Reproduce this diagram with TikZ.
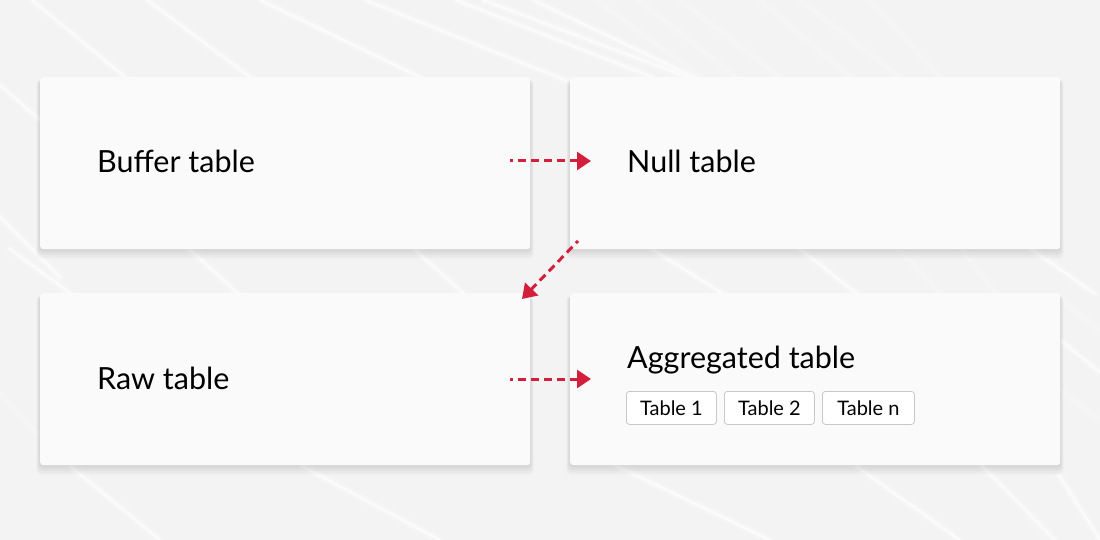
\documentclass[tikz,border=0pt]{standalone}
\usepackage{fontspec}
\setmainfont{Lato}
\usetikzlibrary{arrows.meta}
\definecolor{bg}{HTML}{F3F3F3}
\definecolor{card}{HTML}{FAFAFA}
\definecolor{accent}{HTML}{D2203C}
\definecolor{chipline}{HTML}{C8C8C8}
\tikzset{
  cardbox/.style={draw=none, fill=card, rounded corners=3pt, minimum width=490pt, minimum height=172pt, inner sep=0pt, anchor=north west},
  cardshadow/.style={fill=black, rounded corners=4pt},
  title/.style={font=\fontsize{30.5}{36}\selectfont, text=black, anchor=west, inner sep=0pt},
  chip/.style={draw=chipline, line width=0.8pt, fill=white, rounded corners=3pt, minimum width=90pt, minimum height=33pt, inner sep=0pt, font=\fontsize{20}{24}\selectfont, anchor=north west},
  flow/.style={accent, line width=3pt, dash pattern=on 8pt off 5pt, dash phase=5pt, -{Triangle[length=14pt,width=18pt]}},
  streak/.style={white, line cap=round, line width=8pt, opacity=0.2,
    postaction={draw, white, line width=4pt, opacity=0.3},
    postaction={draw, white, line width=1.6pt, opacity=0.45}},
  faint/.style={white, line cap=round, line width=5pt, opacity=0.22},
}
\begin{document}
\begin{tikzpicture}[x=1pt,y=-1pt]
\fill[bg] (0,0) rectangle (1100,540);
\useasboundingbox (0,0) rectangle (1100,540);
% background streaks (top band)
\draw[streak] (32,0) -- (125,77);
\draw[streak] (147,0) -- (250,77);
\draw[streak] (260,0) -- (420,77);
\draw[streak] (365,0) -- (575,84);
\draw[streak] (456,0) -- (652,77);
\draw[streak] (483,0) -- (687,77);
\draw[streak] (533,0) -- (694,77);
\foreach \a/\b in {596/701, 638/736, 680/780, 760/850, 800/900, 870/940}{
  \draw[faint] (\a,0) -- (\b,77);
}
% middle band
\draw[streak] (10,249) -- (70,293);
\draw[streak] (189,249) -- (238,293);
\draw[streak] (414,249) -- (463,293);
\draw[streak] (652,249) -- (722,293);
\draw[streak] (800,249) -- (856,293);
\draw[faint] (898,249) -- (940,293);
\draw[faint] (961,249) -- (996,293);
\draw[streak] (1031,249) -- (1094,293);
% side strips
\draw[streak] (0,85) -- (40,120);
\draw[streak] (0,217) -- (60,277);
\draw[faint] (0,393) -- (40,437);
\draw[faint] (1060,300) -- (1100,330);
\draw[streak] (1060,340) -- (1100,372);
\draw[faint] (1060,390) -- (1100,420);
% bottom band
\draw[streak] (70,466) -- (160,540);
\draw[streak] (302,466) -- (440,540);
\draw[streak] (617,466) -- (770,540);
\draw[streak] (856,466) -- (960,540);
\draw[streak] (982,466) -- (1055,540);
\draw[streak] (1059,475) -- (1100,540);
% shadows
\foreach \px/\py in {40/77, 570/77, 40/293, 570/293}{
  \foreach \k in {1,...,6}{
    \fill[cardshadow, opacity=0.018] (\px-\k*0.6,\py+3) rectangle (\px+490+\k*0.6,\py+172+\k*1.6);
  }
}
% cards
\node[cardbox] (buffer) at (40,77) {};
\node[cardbox] (null) at (570,77) {};
\node[cardbox] (raw) at (40,293) {};
\node[cardbox] (agg) at (570,293) {};
% titles
\node[title] (tbuffer) at (97,161) {Buffer table};
\node[title] (tnull) at (627,161) {Null table};
\node[title] (traw) at (97,378) {Raw table};
\node[title] (tagg) at (627,360) {Aggregated table};
% chips
\node[chip] (c1) at (626,391) {Table 1};
\node[chip] (c2) at (724,391) {Table 2};
\node[chip, minimum width=92pt] (cn) at (822,391) {Table n};
% arrows
\coordinate (a1s) at (510,161);
\coordinate (a1e) at (591,161);
\coordinate (a2s) at (578,241);
\coordinate (a2e) at (522,299);
\coordinate (a3s) at (510,379);
\coordinate (a3e) at (591,379);
\draw[flow] (a1s) -- (a1e);
\draw[flow] (a2s) -- (a2e);
\draw[flow] (a3s) -- (a3e);
\end{tikzpicture}
\end{document}
